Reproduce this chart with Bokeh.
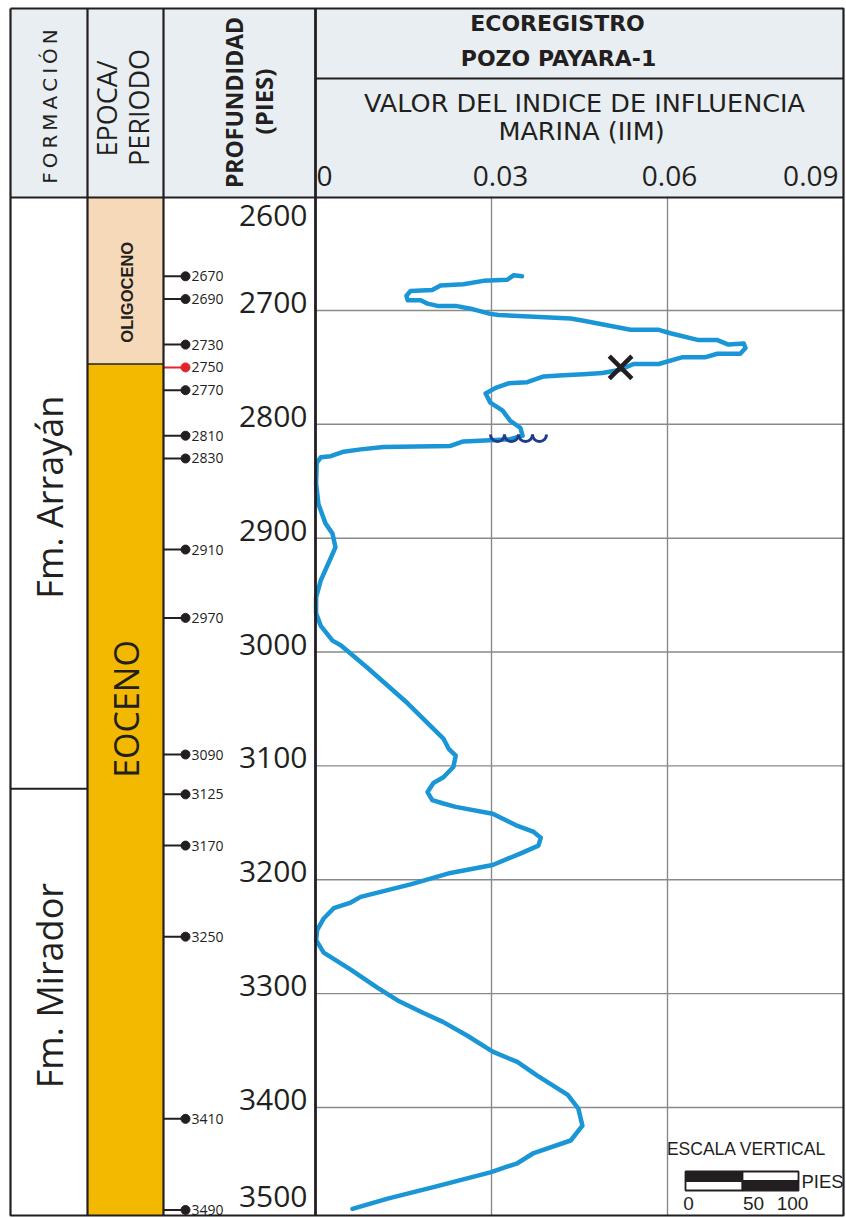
import numpy as np
from bokeh.plotting import figure
from bokeh.models import Range1d
from bokeh.core.properties import value
from bokeh.embed import file_html
from bokeh.resources import INLINE

# ---------------- data ----------------
iim = [0.0352, 0.0338, 0.0327, 0.0286, 0.0252, 0.0213, 0.0199, 0.0162, 0.0155, 0.0157,
       0.0179, 0.0191, 0.0208, 0.0239, 0.0269, 0.0298, 0.0312, 0.0435, 0.0457, 0.0537,
       0.0585, 0.0605, 0.0653, 0.0685, 0.0704, 0.0730, 0.0733, 0.0724, 0.0685, 0.0665,
       0.0626, 0.0585, 0.0542, 0.0520, 0.0489, 0.0457, 0.0423, 0.0389, 0.0361, 0.0329,
       0.0307, 0.0290, 0.0298, 0.0319, 0.0332, 0.0349, 0.0353, 0.0332, 0.0298, 0.0252,
       0.0230, 0.0116, 0.0077, 0.0048, 0.0026, 0.0009, 0.0002, 0.0001, 0.0005, 0.0017,
       0.0029, 0.0034, 0.0022, 0.0009, 0.0001, 0.0001, 0.0009, 0.0029, 0.0043, 0.0089,
       0.0157, 0.0218, 0.0227, 0.0239, 0.0235, 0.0218, 0.0201, 0.0191, 0.0199, 0.0218,
       0.0239, 0.0302, 0.0341, 0.0372, 0.0384, 0.0380, 0.0349, 0.0302, 0.0230, 0.0162,
       0.0077, 0.0060, 0.0031, 0.0014, 0.0003, 0.0001, 0.0014, 0.0060, 0.0106, 0.0140,
       0.0184, 0.0218, 0.0259, 0.0302, 0.0344, 0.0378, 0.0430, 0.0448, 0.0455, 0.0435,
       0.0372, 0.0344, 0.0298, 0.0201, 0.0123, 0.0063]
depth = [2670, 2669, 2673, 2674, 2677, 2678, 2682, 2683, 2687, 2691,
         2691, 2694, 2696, 2696, 2699, 2703, 2704, 2707, 2709, 2717,
         2717, 2720, 2726, 2726, 2730, 2729, 2733, 2738, 2738, 2741,
         2741, 2747, 2747, 2752, 2755, 2756, 2757, 2758, 2763, 2764,
         2768, 2773, 2781, 2788, 2797, 2803, 2810, 2813, 2814, 2815,
         2819, 2820, 2822, 2824, 2828, 2829, 2834, 2852, 2870, 2887,
         2896, 2908, 2922, 2937, 2952, 2966, 2977, 2990, 2994, 3014,
         3045, 3076, 3085, 3091, 3101, 3110, 3115, 3123, 3130, 3133,
         3136, 3142, 3152, 3158, 3163, 3170, 3177, 3187, 3194, 3204,
         3215, 3220, 3225, 3234, 3244, 3253, 3264, 3279, 3295, 3306,
         3317, 3325, 3337, 3351, 3360, 3372, 3389, 3401, 3416, 3429,
         3440, 3449, 3457, 3470, 3480, 3489]

depth_ticks = [2600, 2700, 2800, 2900, 3000, 3100, 3200, 3300, 3400, 3500]
iim_ticks = [0.0, 0.03, 0.06, 0.09]
iim_tick_labels = ["0", "0.03", "0.06", "0.09"]

sample_depths = [2670, 2690, 2730, 2750, 2770, 2810, 2830, 2910, 2970,
                 3090, 3125, 3170, 3250, 3410, 3490]
sample_colors = ["#231F20"] * 3 + ["#E2252B"] + ["#231F20"] * 11

formation_names = ["Fm. Arrayán", "Fm. Mirador"]
formation_top = [2600, 3120]
formation_label_depth = [2864, 3293]

epoch_names = ["OLIGOCENO", "EOCENO"]
epoch_top = [2600, 2747]
epoch_colors = ["#F5D9B9", "#F2B900"]
epoch_label_depth = [2684, 3050]

marker_iim, marker_depth = 0.052, 2750
unconformity_depth = 2812

# ---------------- layout constants (page pixel frame) ----------------
W, H = 846, 1218
X_ZERO, X_PER = 315.0, 176.0 / 0.03
Y_TOP, Y_PER = 196.1, 1.1386


def iim_at(px):
    return (px - X_ZERO) / X_PER


def depth_at(py):
    return 2600 + (py - Y_TOP) / Y_PER


DEPTH_BOT = depth_at(1215)
INK = "#231F20"

p = figure(width=W, height=H,
           x_range=Range1d(iim_at(0), iim_at(W)),
           y_range=Range1d(depth_at(H), depth_at(0)),
           output_backend="svg", toolbar_location=None,
           x_axis_location=None, y_axis_location=None,
           min_border=0, outline_line_color=None,
           background_fill_color="white", border_fill_color="white")
p.extra_x_ranges = {"px": Range1d(0, W)}
p.extra_y_ranges = {"py": Range1d(H, 0)}
p.grid.visible = False


def txt(x, y, s, size, font="Open Sans", style="normal", angle=0.0, align="center",
        baseline="middle", color=INK, xr="px", yr="py"):
    p.text(x=[x], y=[y], text=[s], angle=angle, text_font=value(font),
           text_font_size=value(f"{size}px"), text_font_style=style,
           text_align=align, text_baseline=baseline, text_color=color,
           x_range_name=xr, y_range_name=yr)


# header background
p.quad(left=[10], right=[843], top=[8], bottom=[197], x_range_name="px", y_range_name="py",
       fill_color="#E8EEF1", line_color=None)

# epoch column fills
epoch_base = epoch_top[1:] + [DEPTH_BOT]
p.quad(left=[87, 87], right=[163, 163], top=epoch_top, bottom=epoch_base,
       fill_color=epoch_colors, line_color=None, x_range_name="px")
p.segment(x0=[87], x1=[163], y0=[epoch_top[1]], y1=[epoch_top[1]], x_range_name="px",
          line_color=INK, line_width=1.5)

# grid lines in the log track
p.segment(x0=iim_ticks[1:3], x1=iim_ticks[1:3], y0=[2600] * 2, y1=[DEPTH_BOT] * 2,
          line_color="#8A8A8A", line_width=1.4)
p.segment(x0=[0.0] * 8, x1=[0.09] * 8, y0=depth_ticks[1:-1], y1=depth_ticks[1:-1],
          line_color="#8A8A8A", line_width=1.4)

# IIM curve
p.line(x=iim, y=depth, line_color="#1A96D6", line_width=4.5, line_join="round", line_cap="round")

# unconformity wave
p.arc(x=[497, 511, 525, 539], y=[434] * 4, radius=7, radius_units="screen",
      start_angle=np.pi, end_angle=2 * np.pi, direction="anticlock",
      line_color="#1E3C8C", line_width=3, x_range_name="px", y_range_name="py")

# X marker
p.scatter(x=[marker_iim], y=[marker_depth], marker="x", size=32, line_width=4.5, line_color=INK)

# sample markers
p.segment(x0=[163] * len(sample_depths), x1=[185] * len(sample_depths), y0=sample_depths,
          y1=sample_depths, line_color=sample_colors, line_width=2, x_range_name="px")
p.scatter(x=[185] * len(sample_depths), y=sample_depths, size=9, fill_color=sample_colors,
          line_color=sample_colors, x_range_name="px")
p.text(x=[191] * len(sample_depths), y=sample_depths, text=[str(d) for d in sample_depths],
       text_font=value("Open Sans"), text_font_size=value("14px"), text_color=INK,
       text_align="left", text_baseline="middle", x_range_name="px")

# large depth labels
lab_y = np.clip(np.array(depth_ticks, dtype=float) - 7, 2617, 3478)
p.text(x=[307] * len(depth_ticks), y=list(lab_y), text=[str(d) for d in depth_ticks],
       text_font=value("Open Sans"), text_font_size=value("30px"), text_color=INK,
       text_align="right", text_baseline="middle", x_range_name="px")

# borders
bx = [[10, 843, 843, 10, 10], [87, 87], [163, 163], [10, 843], [315, 843]]
by = [[8, 8, 1215, 1215, 8], [8, 1215], [8, 1215], [197, 197], [78, 78]]
p.multi_line(xs=bx, ys=by, line_color=INK, line_width=2.2, x_range_name="px", y_range_name="py")
p.segment(x0=[315], x1=[315], y0=[8], y1=[1215], line_color=INK, line_width=2.8,
          x_range_name="px", y_range_name="py")
p.segment(x0=[10], x1=[87], y0=[formation_top[1]], y1=[formation_top[1]], line_color=INK,
          line_width=2, x_range_name="px")

# formation & epoch labels
for name, d in zip(formation_names, formation_label_depth):
    txt(49, d, name, 36, angle=np.pi / 2, yr="default")
txt(126, epoch_label_depth[0], epoch_names[0], 16.5, font="Liberation Sans", style="bold",
    angle=np.pi / 2, yr="default")
txt(125, epoch_label_depth[1], epoch_names[1], 34, angle=np.pi / 2, yr="default")

# header texts
txt(49, 106, "\u2009".join("FORMACIÓN"), 20, font="DejaVu Sans", angle=np.pi / 2)
txt(106, 108, "EPOCA/", 27, angle=np.pi / 2)
txt(138, 107, "PERIODO", 27, angle=np.pi / 2)
txt(233, 102, "PROFUNDIDAD", 23, style="bold", angle=np.pi / 2)
txt(263, 101, "(PIES)", 24, style="bold", angle=np.pi / 2)
txt(557, 23, "ECOREGISTRO", 22, font="DejaVu Sans", style="bold")
txt(558, 58, "POZO PAYARA-1", 22, font="DejaVu Sans", style="bold")
txt(584, 102, "VALOR DEL INDICE DE INFLUENCIA", 25.5, font="DejaVu Sans")
txt(581, 130, "MARINA (IIM)", 25.5, font="DejaVu Sans")

aligns = ["left", "center", "center", "right"]
offs = [1, 9, 2, -5]
for t, lab, al, of in zip(iim_ticks, iim_tick_labels, aligns, offs):
    p.text(x=[t], y=[175], text=[lab], x_offset=of, text_font=value("Open Sans"),
           text_font_size=value("28px"), text_color=INK, text_align=al,
           text_baseline="middle", y_range_name="py")

# vertical scale bar
p.quad(left=[685, 742, 685, 742], right=[742, 798, 742, 798],
       top=[1171, 1171, 1180.5, 1180.5], bottom=[1180.5, 1180.5, 1190, 1190],
       fill_color=[INK, "white", "white", INK], line_color=INK, line_width=1.8,
       x_range_name="px", y_range_name="py")
txt(746, 1148, "ESCALA VERTICAL", 17.5, font="Liberation Sans")
txt(801, 1181, "PIES", 18.5, font="Liberation Sans", align="left")
txt(688, 1203, "0", 19, font="Liberation Sans")
txt(753, 1203, "50", 19, font="Liberation Sans")
txt(792, 1203, "100", 19, font="Liberation Sans")

open("out.html", "w").write(file_html(p, INLINE))
